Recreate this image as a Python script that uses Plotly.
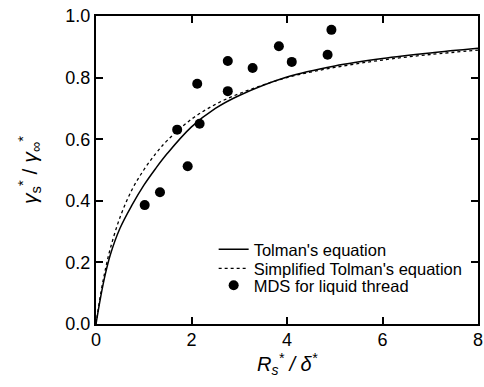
import plotly.graph_objects as go

# MDS data points (liquid thread)
mds_x = [1.02, 1.34, 1.70, 1.92, 2.12, 2.17, 2.76, 2.76, 3.28, 3.83, 4.10, 4.85, 4.93]
mds_y = [0.386, 0.428, 0.631, 0.512, 0.780, 0.650, 0.854, 0.756, 0.831, 0.902, 0.851, 0.874, 0.955]

# Curves
curve_x = [0, 0.1, 0.2, 0.3, 0.5, 0.75, 1.0, 1.25, 1.5, 2.0, 2.5, 3.0, 4.0, 5.0, 6.0, 7.0, 8.0]
tolman_y = [0, 0.09, 0.165, 0.225, 0.31, 0.385, 0.45, 0.505, 0.555, 0.64, 0.70, 0.742, 0.802, 0.838, 0.862, 0.880, 0.895]
simplified_y = [0, 0.10, 0.18, 0.245, 0.345, 0.435, 0.50, 0.553, 0.597, 0.665, 0.713, 0.748, 0.80, 0.833, 0.857, 0.875, 0.889]

x_ticks = [0, 2, 4, 6, 8]
y_ticks = [0.0, 0.2, 0.4, 0.6, 0.8, 1.0]

FONT = "Liberation Sans, Arial, sans-serif"

fig = go.Figure()
fig.add_trace(go.Scatter(x=curve_x, y=tolman_y, mode="lines", name="Tolman's equation",
                         line=dict(color="black", width=1.5, shape="spline"), legend="legend"))
fig.add_trace(go.Scatter(x=curve_x, y=simplified_y, mode="lines", name="Simplified Tolman's equation",
                         line=dict(color="black", width=1.3, dash="dot", shape="spline"), legend="legend2"))
fig.add_trace(go.Scatter(x=mds_x, y=mds_y, mode="markers", name="MDS for liquid thread",
                         marker=dict(color="black", size=10, symbol="circle"), legend="legend3"))

axis_common = dict(showline=True, linecolor="black", linewidth=2, mirror="ticks",
                   ticks="inside", ticklen=7, tickwidth=2, tickcolor="black",
                   showgrid=False, zeroline=False, automargin=False,
                   ticklabeloverflow="allow",
                   tickfont=dict(family=FONT, size=18, color="black"))

leg_common = dict(x=0.308, xanchor="left", yanchor="middle", bgcolor="rgba(0,0,0,0)",
                  borderwidth=0, font=dict(family=FONT, size=16.5, color="black"),
                  itemwidth=30)

fig.update_layout(
    width=484, height=387,
    margin=dict(l=96, r=6, t=16, b=63),
    plot_bgcolor="white", paper_bgcolor="white",
    font=dict(family=FONT, color="black"),
    xaxis=dict(range=[0, 8], tickvals=x_ticks, ticktext=[str(v) for v in x_ticks],
               ticklabelstandoff=-2,
               title=dict(text="<i>R<sub>s</sub><sup>*</sup> / δ<sup>*</sup></i>",
                          font=dict(family=FONT, size=20), standoff=2),
               **axis_common),
    yaxis=dict(range=[0, 1.0], tickvals=y_ticks, ticktext=[f"{v:.1f}" for v in y_ticks],
               title=dict(text="<i>γ</i><sub>s</sub><sup>*</sup> / <i>γ</i><sub>∞</sub><sup>*</sup>",
                          font=dict(family=FONT, size=21), standoff=22),
               **axis_common),
    showlegend=True,
    legend=dict(y=0.242, **leg_common),
    legend2=dict(y=0.180, **leg_common),
    legend3=dict(y=0.125, **leg_common),
)

fig.write_html("out.html")
